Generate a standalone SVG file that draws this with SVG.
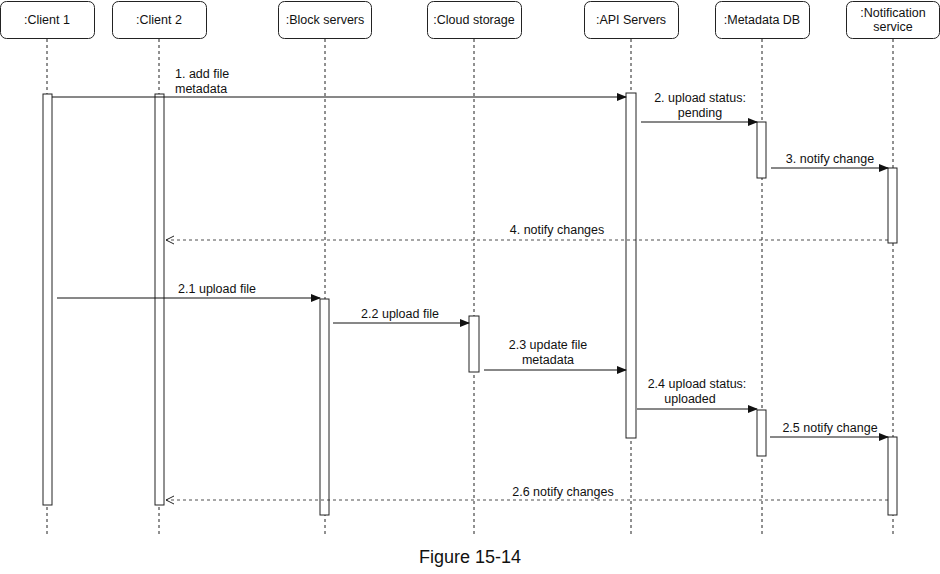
<svg xmlns="http://www.w3.org/2000/svg" width="940" height="574" viewBox="0 0 940 574">
<style>
text{font-family:"Liberation Sans",Arial,sans-serif;font-size:12.5px;fill:#111}
.hd rect{fill:#fff;stroke:#222;stroke-width:1}
.ll{stroke:#222;stroke-width:1;stroke-dasharray:3,3}
.act{fill:#fff;stroke:#222;stroke-width:1}
.m{stroke:#111;stroke-width:1;fill:none}
.r{stroke:#222;stroke-width:0.8;fill:none;stroke-dasharray:3,3}
.c{text-anchor:middle}
</style>
<defs>
<marker id="a" markerWidth="10" markerHeight="8" refX="9" refY="4" orient="auto" markerUnits="userSpaceOnUse"><path d="M0,0L10,4L0,8z" fill="#111"/></marker>
<marker id="o" markerWidth="10" markerHeight="10" refX="9" refY="5" orient="auto" markerUnits="userSpaceOnUse"><path d="M1,1L9,5L1,9" fill="none" stroke="#222"/></marker>
</defs>
<g id="client1" class="hd"><rect x="0.5" y="1.5" width="94" height="37" rx="6"/><text class="c" x="47" y="24">:Client 1</text><line class="ll" x1="47" y1="39" x2="47" y2="535"/><rect class="act" x="43" y="94" width="9" height="411"/></g>
<g id="client2" class="hd"><rect x="112.5" y="1.5" width="94" height="37" rx="6"/><text class="c" x="159" y="24">:Client 2</text><line class="ll" x1="159" y1="39" x2="159" y2="535"/><rect class="act" x="155" y="94" width="9" height="411"/></g>
<g id="block" class="hd"><rect x="278.5" y="1.5" width="93" height="37" rx="6"/><text class="c" x="325" y="24">:Block servers</text><line class="ll" x1="325" y1="39" x2="325" y2="535"/><rect class="act" x="320" y="299" width="9" height="216"/></g>
<g id="cloud" class="hd"><rect x="427.5" y="1.5" width="94" height="37" rx="6"/><text class="c" x="474" y="24">:Cloud storage</text><line class="ll" x1="474" y1="39" x2="474" y2="535"/><rect class="act" x="469" y="316" width="10" height="56"/></g>
<g id="api" class="hd"><rect x="584.5" y="1.5" width="94" height="37" rx="6"/><text class="c" x="631" y="24">:API Servers</text><line class="ll" x1="631" y1="39" x2="631" y2="535"/><rect class="act" x="626" y="93" width="10" height="345"/></g>
<g id="metadb" class="hd"><rect x="715.5" y="1.5" width="94" height="37" rx="6"/><text class="c" x="762" y="24">:Metadata DB</text><line class="ll" x1="762" y1="39" x2="762" y2="535"/><rect class="act" x="757" y="122" width="9" height="56"/><rect class="act" x="757" y="410" width="9" height="46"/></g>
<g id="notif" class="hd"><rect x="846.5" y="1.5" width="93" height="37" rx="6"/><text class="c" x="893" y="17">:Notification</text><text class="c" x="893" y="31">service</text><line class="ll" x1="893" y1="39" x2="893" y2="535"/><rect class="act" x="888" y="168" width="9" height="75"/><rect class="act" x="888" y="437" width="9" height="78"/></g>
<g id="connectors">
<line class="m" x1="52" y1="97" x2="626" y2="97" marker-end="url(#a)"/>
<text x="175" y="78">1. add file</text><text x="175" y="93">metadata</text>
<line class="m" x1="641" y1="122" x2="757" y2="122" marker-end="url(#a)"/>
<text class="c" x="700" y="102">2. upload status:</text><text class="c" x="700" y="117">pending</text>
<line class="m" x1="771" y1="168" x2="888" y2="168" marker-end="url(#a)"/>
<text class="c" x="830" y="163">3. notify change</text>
<line class="r" x1="888" y1="240" x2="166" y2="240" marker-end="url(#o)"/>
<text class="c" x="557" y="234">4. notify changes</text>
<line class="m" x1="57" y1="298" x2="320" y2="298" marker-end="url(#a)"/>
<text class="c" x="217" y="293">2.1 upload file</text>
<line class="m" x1="333" y1="323" x2="469" y2="323" marker-end="url(#a)"/>
<text class="c" x="400" y="318">2.2 upload file</text>
<line class="m" x1="484" y1="370" x2="626" y2="370" marker-end="url(#a)"/>
<text class="c" x="548" y="349">2.3 update file</text><text class="c" x="548" y="364">metadata</text>
<line class="m" x1="637" y1="409" x2="757" y2="409" marker-end="url(#a)"/>
<text class="c" x="697" y="388">2.4 upload status:</text><text class="c" x="690" y="403">uploaded</text>
<line class="m" x1="770" y1="437" x2="888" y2="437" marker-end="url(#a)"/>
<text class="c" x="830" y="432">2.5 notify change</text>
<line class="r" x1="888" y1="500" x2="166" y2="500" marker-end="url(#o)"/>
<text class="c" x="563" y="496">2.6 notify changes</text>
</g>
<text class="c" x="470" y="563" style="font-size:18px">Figure 15-14</text>
</svg>
